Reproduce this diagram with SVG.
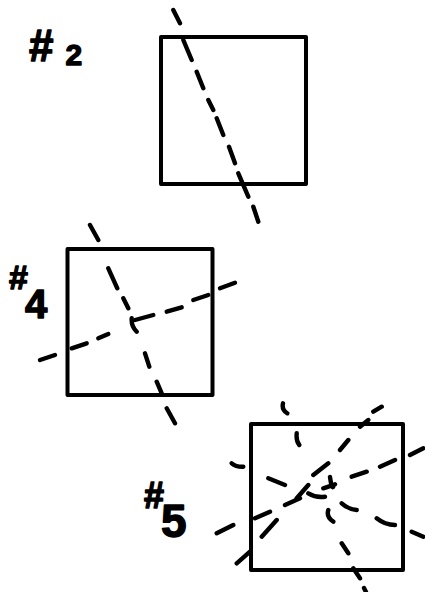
<svg xmlns="http://www.w3.org/2000/svg" width="425" height="592" viewBox="0 0 425 592">
<style>
.sq{fill:none;stroke:#000;stroke-width:4;stroke-linejoin:round}
.d{fill:none;stroke:#000;stroke-width:4.4;stroke-linecap:round}
.lbl{font-family:"Liberation Sans",Arial,sans-serif;font-weight:bold;fill:#000;stroke:#000;stroke-width:1.4;stroke-linejoin:round}
</style>
<rect width="425" height="592" fill="#fff"/>
<g id="fig2">
<rect class="sq" x="161" y="37" width="145" height="147"/>
<text class="lbl" x="29" y="61" font-size="44">#<tspan font-size="30" dx="12" dy="4">2</tspan></text>
<g id="fig2-line">
<path class="d" d="M173.3 10L180 23.3M183.3 40L191.7 60M196.7 71.7L203.3 88.3M208.3 100L213.3 110M216.7 118.3L223.3 135M229 146.7L235 163.3M238.3 173.3L248.3 196.7M253.3 206.7L258.3 221.7"/>
</g>
</g>
<g id="fig4">
<rect class="sq" x="67.5" y="249" width="145" height="146"/>
<text class="lbl" x="9" y="289" font-size="34">#<tspan font-size="40" dx="-3" dy="29">4</tspan></text>
<g id="fig4-lines">
<path class="d" d="M90 225L98.3 240M108.3 268.3L117.3 288.3M123.3 298.3L128.3 308.3M131.7 318.3Q131 326 136.7 331.7M145 353.3L149.3 366.7M156.7 381.7L161.7 393.3M166.7 408.3L175 423.3"/>
<path class="d" d="M40 360L55 355M71.7 348.3L86.7 343.3M98.3 338.3L108.3 334M135 320L153.3 315M166.7 311.7L181.7 307.3M193.3 300L208.3 295M220 288.3L235 282.7"/>
</g>
</g>
<g id="fig5">
<rect class="sq" x="251" y="424" width="152" height="146"/>
<text class="lbl" x="144" y="508" font-size="36">#<tspan font-size="46" dx="-3" dy="29">5</tspan></text>
<g id="fig5-lines">
<path class="d" d="M283 403.3Q281.5 410 287.3 413.3M296.7 433.3Q296 441 299.3 445M330 477Q331.5 488 333 487M328.3 510Q326 517 333.3 521.7M341.7 543.3L348.3 553.3M353.3 568.3L360 578.3M364 588L366 592"/>
<path class="d" d="M373.3 411.7L381.7 406.7M360 426.7L368.3 420M340 450L348.3 440M313.3 475L328.3 463.3M296.7 498.3L308.3 485M261.7 536.7L276.7 520M236.7 563.3L250 551.7"/>
<path class="d" d="M216.7 533.3L233.3 525M255 518.3L270 511.7M285 505L300 498.3M323.3 488.3L335 484.3M351.7 476.7L366.7 471.7M380 466.7L395 460M410 455L423.3 448.3"/>
<path class="d" d="M231.7 463.3Q236 467 243.3 466.7M268.3 478.3L285 485M308.3 493.3Q316 498 325 496.7M341.7 503.3Q348 509 356.7 510M376.7 518.3Q385 525 395 525M411.7 531.7L423.3 536.7"/>
</g>
</g>
</svg>
